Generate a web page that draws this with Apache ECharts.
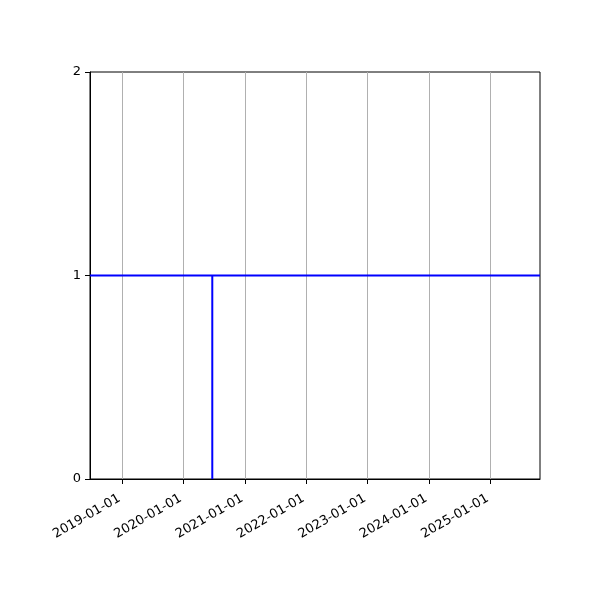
<!DOCTYPE html>
<html>
<head>
<meta charset="utf-8">
<script src="https://cdn.jsdelivr.net/npm/echarts@6/dist/echarts.min.js"></script>
<style>html,body{margin:0;padding:0;background:#fff}#c{width:600px;height:600px}</style>
</head>
<body>
<div id="c"></div>
<script>
var xRange = ['2018-06-24', '2025-10-24'];
var yearTicks = ['2019-01-01','2020-01-01','2021-01-01','2022-01-01','2023-01-01','2024-01-01','2025-01-01'];
var yTicks = [0, 1, 2];
var hLine = [['2018-06-24', 1], ['2025-10-24', 1]];
var vLine = [['2020-06-21', 0], ['2020-06-21', 1]];

function ts(s){ return new Date(s + 'T00:00:00Z').getTime(); }
function pad(n){ return (n < 10 ? '0' : '') + n; }
function fmt(v){ var d = new Date(v); return d.getUTCFullYear() + '-' + pad(d.getUTCMonth()+1) + '-' + pad(d.getUTCDate()); }

var tickVals = yearTicks.map(ts);
var chart = echarts.init(document.getElementById('c'));
chart.setOption({
  animation: false,
  grid: { left: 90, right: 60, top: 72, bottom: 121, show: true, borderColor: '#000', borderWidth: 1, backgroundColor: 'transparent' },
  xAxis: {
    type: 'value',
    min: ts(xRange[0]), max: ts(xRange[1]),
    axisLine: { show: true, lineStyle: { color: '#000', width: 1 } },
    axisTick: { show: true, customValues: tickVals, length: 5, lineStyle: { color: '#000', width: 1 } },
    axisLabel: { customValues: tickVals, rotate: 30, formatter: function(v){ return fmt(v); }, color: '#000', fontSize: 13, fontFamily: 'DejaVu Sans', margin: 17, padding: [0, 3, 0, 0] },
    splitLine: { show: true, lineStyle: { color: '#b0b0b0', width: 1 } }
  },
  yAxis: {
    type: 'value', min: yTicks[0], max: yTicks[yTicks.length-1], interval: 1,
    axisLine: { show: true, lineStyle: { color: '#000', width: 1 } },
    axisTick: { show: true, length: 5, lineStyle: { color: '#000', width: 1 } },
    axisLabel: { color: '#000', fontSize: 13, fontFamily: 'DejaVu Sans', margin: 9 },
    splitLine: { show: false }
  },
  series: [
    { type: 'line', data: hLine.map(function(p){ return [ts(p[0]), p[1]]; }), symbol: 'none', lineStyle: { color: '#0000ff', width: 2 }, z: 3 },
    { type: 'line', data: vLine.map(function(p){ return [ts(p[0]), p[1]]; }), symbol: 'none', lineStyle: { color: '#0000ff', width: 2 }, z: 3 }
  ]
});
</script>
</body>
</html>
